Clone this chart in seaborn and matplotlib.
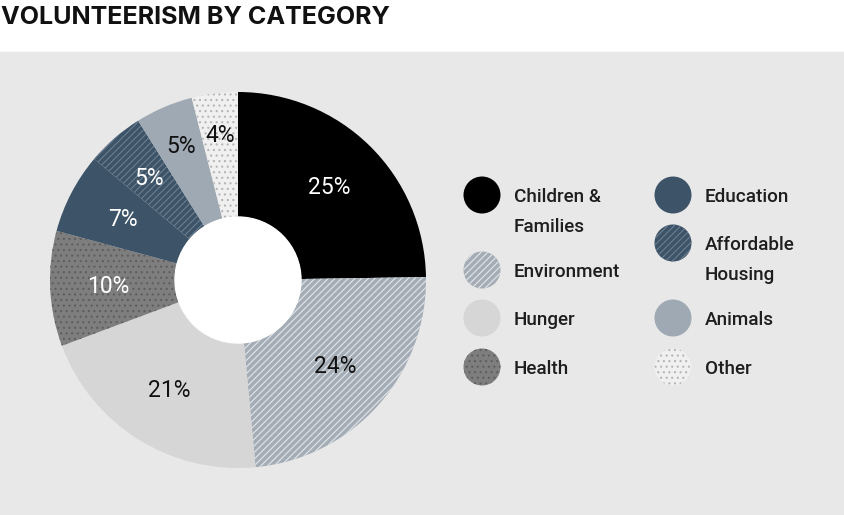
import matplotlib
matplotlib.use('Agg')
import numpy as np
import matplotlib.pyplot as plt
from matplotlib.patches import Rectangle, Circle
import seaborn as sns

# data
categories = ['Children & Families', 'Environment', 'Hunger', 'Health',
              'Education', 'Affordable Housing', 'Animals', 'Other']
legend_labels = ['Children &\nFamilies', 'Environment', 'Hunger', 'Health',
                 'Education', 'Affordable\nHousing', 'Animals', 'Other']
shares = [25, 24, 21, 10, 7, 5, 5, 4]

# styling per slice
fills = ['#000000', '#a4adb6', '#d6d6d6', '#7e7e7e',
         '#3d5367', '#3d5367', '#9ea9b3', '#f0f0f0']
hatches = [None, '/////', None, '...', None, '/////', None, '...']
hatch_colors = [None, '#e2e6ea', None, '#5e5e5e', None, '#6c7f90', None, '#b5b5b5']
label_colors = ['white', '#111111', '#111111', 'white', 'white', 'white', '#111111', '#111111']
label_radius = [130, 130, 130, 130, 130, 135, 145, 146]

sns.set_theme(style='white')
plt.rcParams['font.family'] = ['Roboto', 'DejaVu Sans']
plt.rcParams['hatch.linewidth'] = 0.8

W, H = 845, 515
fig = plt.figure(figsize=(W / 100, H / 100), dpi=100)
fig.patch.set_facecolor('white')
ax = fig.add_axes([0, 0, 1, 1])

# grey panel below the title
ax.add_patch(Rectangle((0, 0), W, H - 52, color='#e8e8e8', zorder=0))

cx, cy = 238, H - 280
wedges, _ = ax.pie(shares, radius=188, center=(cx, cy), startangle=90,
                   counterclock=False, colors=fills,
                   wedgeprops=dict(width=125, linewidth=0))
for w, h, hc in zip(wedges, hatches, hatch_colors):
    w.set_zorder(1)
    if h:
        w.set_hatch(h)
        w.set_edgecolor(hc)
        w.set_linewidth(0)

ax.add_patch(Circle((cx, cy), 63, color='white', zorder=2))

for w, pct, r, col in zip(wedges, shares, label_radius, label_colors):
    ang = np.deg2rad((w.theta1 + w.theta2) / 2)
    ax.text(cx + r * np.cos(ang), cy + r * np.sin(ang), f'{pct}%',
            ha='center', va='center', fontsize=16.5, color=col, zorder=4)

# legend, two columns
leg_x = [482, 482, 482, 482, 673, 673, 673, 673]
leg_y = [195, 270, 318, 367, 195, 243, 318, 367]
for i, lab in enumerate(legend_labels):
    px, py = leg_x[i], H - leg_y[i]
    c = Circle((px, py), 18.5, facecolor=fills[i], linewidth=0, zorder=3)
    if hatches[i]:
        c.set_hatch(hatches[i])
        c.set_edgecolor(hatch_colors[i])
        c.set_linewidth(0)
    ax.add_patch(c)
    for j, line in enumerate(lab.split('\n')):
        ax.text(px + 32, py - 7 - 29.5 * j, line, ha='left', va='baseline',
                fontsize=13.6, fontweight='medium', color='#1e1e1e', zorder=4)

ax.text(1, H - 6, 'VOLUNTEERISM BY CATEGORY', ha='left', va='top',
        fontsize=18.1, fontweight='bold', color='#111111',
        family=['Inter', 'DejaVu Sans'])

ax.set_xlim(0, W)
ax.set_ylim(0, H)
ax.set_aspect('equal')
ax.axis('off')

fig.savefig('out.png', dpi=100, facecolor='white')
